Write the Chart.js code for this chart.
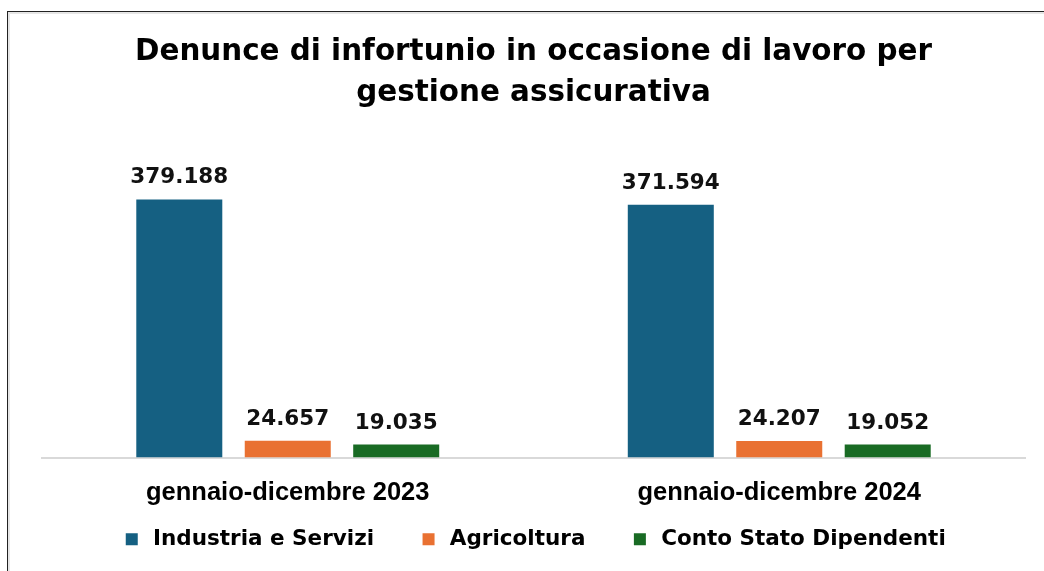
<!DOCTYPE html>
<html>
<head>
<meta charset="utf-8">
<script src="https://cdn.jsdelivr.net/npm/chart.js@4.4.1/dist/chart.umd.min.js"></script>
<style>
  html, body { margin: 0; padding: 0; background: #fff; overflow: hidden; }
  .frame { position: absolute; left: 7px; top: 11px; width: 1100px; height: 620px;
           border-top: 1px solid #222; border-left: 1px solid #222;
           box-shadow: inset 2px 2px 0 #e6e6e6; }
  .wrap { position: absolute; left: 0; top: 0; width: 1044px; height: 571px; }
</style>
</head>
<body>
<div class="frame"></div>
<div class="wrap"><canvas id="chart" width="1044" height="571"></canvas></div>
<script>
// dati
const periods = ['gennaio-dicembre 2023', 'gennaio-dicembre 2024'];
const seriesNames = ['Industria e Servizi', 'Agricoltura', 'Conto Stato Dipendenti'];
const industriaServizi = [379188, 371594];
const agricoltura = [24657, 24207];
const contoStato = [19035, 19052];
const seriesColors = ['#156082', '#E97132', '#196B24'];

// 379188 -> "379.188"
function fmt(v) {
  return String(v).replace(/\B(?=(\d{3})+(?!\d))/g, '.');
}

// etichette sopra le barre
const valueLabels = {
  id: 'valueLabels',
  afterDatasetsDraw(chart) {
    const ctx = chart.ctx;
    ctx.save();
    ctx.font = 'bold 21.5px "DejaVu Sans"';
    ctx.fillStyle = '#111';
    ctx.textAlign = 'center';
    ctx.textBaseline = 'alphabetic';
    chart.data.datasets.forEach((ds, i) => {
      chart.getDatasetMeta(i).data.forEach((bar, j) => {
        ctx.fillText(fmt(ds.data[j]), bar.x, bar.y - 16);
      });
    });
    ctx.restore();
  }
};

const allSeries = [industriaServizi, agricoltura, contoStato];

new Chart(document.getElementById('chart'), {
  type: 'bar',
  data: {
    labels: periods,
    datasets: allSeries.map((values, i) => ({
      label: seriesNames[i],
      data: values,
      backgroundColor: seriesColors[i],
      categoryPercentage: 0.662,
      barPercentage: 0.793
    }))
  },
  options: {
    responsive: false,
    animation: false,
    layout: { padding: { left: 42, right: 19, top: 0, bottom: 11 } },
    scales: {
      x: {
        grid: { display: false, drawTicks: false },
        border: { display: true, color: '#d9d9d9', width: 2 },
        ticks: {
          color: '#000',
          padding: 20,
          font: { family: 'Liberation Sans', weight: 'bold', size: 25.5 }
        },
        afterFit(scale) {
          // asse basso e stretto, etichette non ritagliate
          scale.height = 27;
          scale._computeLabelArea = () => undefined;
        }
      },
      y: {
        display: false,
        min: 0,
        max: 400000
      }
    },
    plugins: {
      title: {
        display: true,
        text: ['Denunce di infortunio in occasione di lavoro per', 'gestione assicurativa'],
        color: '#000',
        padding: { top: 32, bottom: 71 },
        font: { family: 'DejaVu Sans', weight: 'bold', size: 29.4, lineHeight: 1.4 }
      },
      legend: {
        position: 'bottom',
        labels: {
          usePointStyle: true,
          pointStyle: 'rect',
          boxWidth: 21,
          boxHeight: 12,
          padding: 44,
          color: '#000',
          font: { family: 'DejaVu Sans', weight: 'bold', size: 21.5 }
        }
      },
      tooltip: { enabled: false }
    }
  },
  plugins: [valueLabels]
});
</script>
</body>
</html>
